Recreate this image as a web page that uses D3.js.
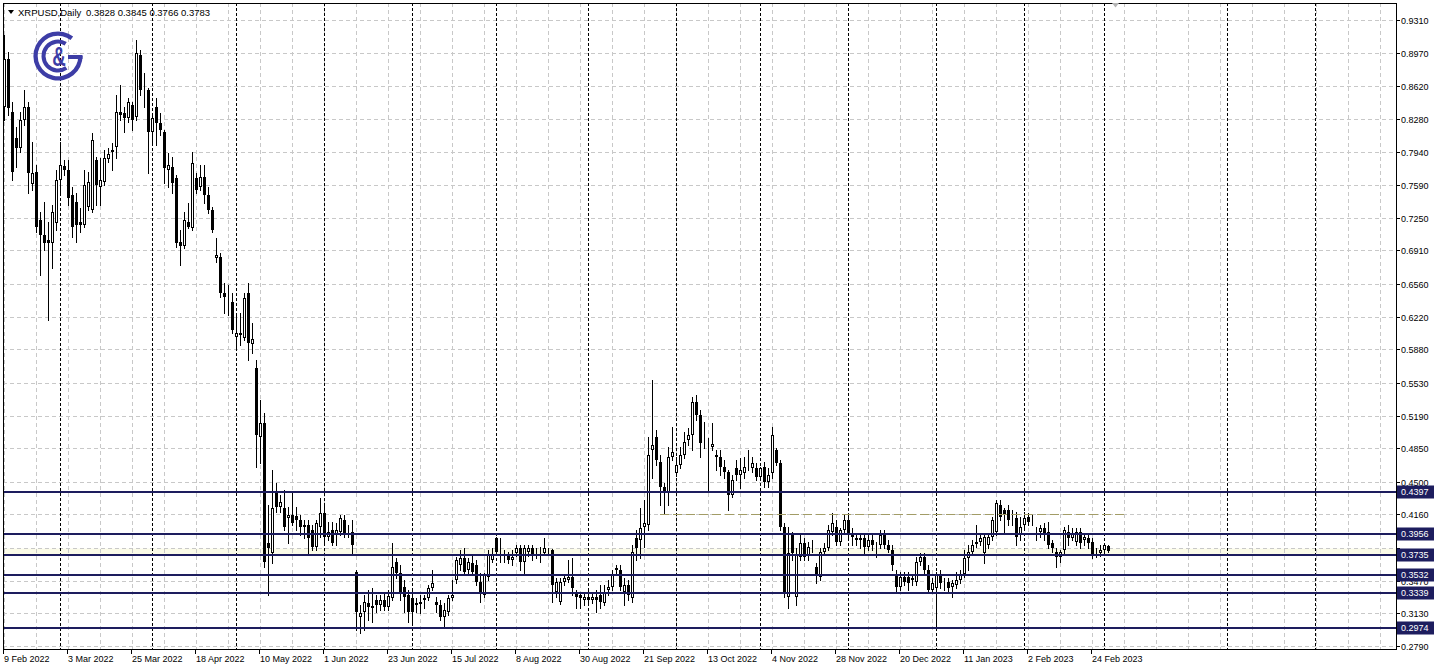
<!DOCTYPE html>
<html><head><meta charset="utf-8">
<script src="https://cdn.jsdelivr.net/npm/d3@7"></script>
<style>html,body{margin:0;padding:0;background:#fff;overflow:hidden}svg{display:block}</style>
</head><body>
<script>
// ---------------- data ----------------
const symbolTitle = "XRPUSD,Daily";
const lastQuote = ["0.3828", "0.3845", "0.3766", "0.3783"];

const dateLabels = ["9 Feb 2022","3 Mar 2022","25 Mar 2022","18 Apr 2022","10 May 2022","1 Jun 2022",
  "23 Jun 2022","15 Jul 2022","8 Aug 2022","30 Aug 2022","21 Sep 2022","13 Oct 2022","4 Nov 2022",
  "28 Nov 2022","20 Dec 2022","11 Jan 2023","2 Feb 2023","24 Feb 2023"];
const dateLabelBars = [0,16,32,48,64,80,96,112,128,144,160,176,192,208,224,240,256,272];
const monthSeparatorBars = [14,37,58,80,102,123,146,168,189,211,233,255,275,305.75,327.75];

const priceTicks = [0.9310,0.8970,0.8620,0.8280,0.7940,0.7590,0.7250,0.6910,0.6560,0.6220,
  0.5880,0.5530,0.5190,0.4850,0.4500,0.4160,0.3810,0.3470,0.3130,0.2790];
// the 0.3810 tick label is hidden behind the 0.3735 level box in the reference
const hiddenTickLabels = [0.3810];
const levelLines = [0.4397,0.3956,0.3735,0.3532,0.3339,0.2974];
const levelLabels = ["0.4397","0.3956","0.3735","0.3532","0.3339","0.2974"];
const trendLevel = 0.4163, trendFromBar = 164, trendToBar = 280.75;
const bandLow = 0.3737, bandHigh = 0.3805;

const opens = [
0.8403,0.8903,0.8351,0.8080,0.7976,0.8268,0.8403,0.7601,0.7726,0.7226,
0.7070,0.7018,0.6987,0.7195,0.7643,0.7789,0.7747,0.7487,0.7414,0.7205,
0.7174,0.7362,0.7330,0.7851,0.7570,0.7622,0.7862,0.7955,0.7987,0.8351,
0.8341,0.8289,0.8424,0.8299,0.8945,0.8601,0.8580,0.8143,0.8403,0.8237,
0.8143,0.7747,0.7778,0.7664,0.6997,0.6955,0.7205,0.7143,0.7664,0.7570,
0.7674,0.7487,0.7330,0.6830,0.6841,0.6466,0.6435,0.6372,0.6008,0.6049,
0.5997,0.6466,0.5935,0.5685,0.4966,0.5112,0.3862,0.3758,0.4383,0.4237,
0.4226,0.4122,0.4153,0.4143,0.4101,0.4049,0.4049,0.3997,0.3820,0.4028,
0.4174,0.3924,0.3997,0.3945,0.3976,0.4101,0.3976,0.3976,0.3560,0.3091,
0.3143,0.3237,0.3185,0.3268,0.3216,0.3268,0.3195,0.3289,0.3664,0.3549,
0.3403,0.3320,0.3289,0.3237,0.3226,0.3268,0.3289,0.3393,0.3247,0.3216,
0.3091,0.3143,0.3289,0.3476,0.3633,0.3705,0.3580,0.3653,0.3633,0.3455,
0.3320,0.3508,0.3685,0.3914,0.3758,0.3737,0.3737,0.3685,0.3758,0.3810,
0.3664,0.3768,0.3810,0.3758,0.3747,0.3758,0.3789,0.3789,0.3351,0.3247,
0.3455,0.3476,0.3508,0.3341,0.3320,0.3268,0.3299,0.3268,0.3299,0.3320,
0.3237,0.3372,0.3403,0.3580,0.3580,0.3351,0.3424,0.3289,0.3914,0.3893,
0.4028,0.4049,0.4830,0.4966,0.4705,0.4445,0.4393,0.4757,0.4591,0.4674,
0.4778,0.4935,0.4987,0.5330,0.5195,0.4883,0.4880,0.4862,0.4778,0.4757,
0.4653,0.4601,0.4362,0.4643,0.4570,0.4591,0.4653,0.4643,0.4643,0.4549,
0.4653,0.4497,0.4591,0.4830,0.4695,0.4028,0.3299,0.3966,0.3299,0.3716,
0.3862,0.3737,0.3820,0.3612,0.3508,0.3768,0.3810,0.3976,0.4028,0.3872,
0.3997,0.4101,0.3945,0.3893,0.3893,0.3914,0.3820,0.3893,0.3841,0.3841,
0.3945,0.3841,0.3789,0.3539,0.3403,0.3508,0.3508,0.3476,0.3455,0.3664,
0.3716,0.3580,0.3372,0.3393,0.3539,0.3424,0.3455,0.3403,0.3424,0.3476,
0.3539,0.3705,0.3768,0.3851,0.3872,0.3758,0.3841,0.3924,0.3976,0.4258,
0.4206,0.4206,0.4122,0.4122,0.3945,0.4049,0.4132,0.4101,0.3966,0.3976,
0.4018,0.3976,0.3862,0.3768,0.3716,0.3789,0.3976,0.3914,0.3872,0.3976,
0.3893,0.3914,0.3872,0.3768,0.3758,0.3789,0.3828];

const highs = [
0.9153,0.8976,0.8455,0.8195,0.8351,0.8580,0.8455,0.8039,0.7799,0.7310,
0.7414,0.7205,0.7383,0.7747,0.8039,0.7851,0.7851,0.7570,0.7508,0.7351,
0.7747,0.7726,0.8133,0.7883,0.7872,0.7955,0.7976,0.8028,0.8528,0.8633,
0.8403,0.8497,0.8455,0.9101,0.8997,0.8758,0.8601,0.8341,0.8497,0.8341,
0.8164,0.7924,0.7883,0.7695,0.7122,0.7310,0.7403,0.7935,0.7716,0.7799,
0.7799,0.7570,0.7362,0.7039,0.6883,0.6570,0.6549,0.6466,0.6258,0.6258,
0.6466,0.6570,0.6153,0.5768,0.5351,0.5216,0.4258,0.4622,0.4487,0.4362,
0.4414,0.4237,0.4383,0.4237,0.4153,0.4101,0.4101,0.4049,0.4101,0.4330,
0.4278,0.4080,0.4080,0.4070,0.4153,0.4153,0.4049,0.4101,0.3580,0.3216,
0.3320,0.3372,0.3393,0.3320,0.3320,0.3351,0.3372,0.3862,0.3705,0.3633,
0.3476,0.3372,0.3393,0.3289,0.3320,0.3320,0.3424,0.3580,0.3299,0.3268,
0.3237,0.3320,0.3476,0.3716,0.3789,0.3810,0.3705,0.3737,0.3685,0.3549,
0.3549,0.3789,0.3810,0.3924,0.3914,0.3789,0.3768,0.3789,0.3841,0.3841,
0.3841,0.3841,0.3841,0.3810,0.3820,0.3914,0.3810,0.3800,0.3497,0.3497,
0.3528,0.3685,0.3705,0.3372,0.3341,0.3351,0.3372,0.3330,0.3372,0.3424,
0.3424,0.3476,0.3580,0.3633,0.3633,0.3497,0.3476,0.3841,0.3997,0.4226,
0.4310,0.4966,0.5560,0.5039,0.4778,0.4487,0.4862,0.5070,0.4757,0.4862,
0.5018,0.5060,0.5380,0.5403,0.5247,0.5122,0.4955,0.5112,0.4830,0.4830,
0.4726,0.4622,0.4570,0.4726,0.4747,0.4757,0.4830,0.4757,0.4695,0.4653,
0.4705,0.4643,0.5070,0.4851,0.4726,0.4070,0.4028,0.3976,0.3810,0.3966,
0.3914,0.3872,0.3893,0.3653,0.3810,0.3862,0.4049,0.4174,0.4101,0.4018,
0.4153,0.4153,0.4018,0.3966,0.3945,0.3966,0.3945,0.3945,0.3872,0.3997,
0.3997,0.3893,0.3841,0.3580,0.3560,0.3560,0.3560,0.3539,0.3716,0.3758,
0.3758,0.3633,0.3497,0.3560,0.3580,0.3497,0.3497,0.3476,0.3560,0.3580,
0.3789,0.3841,0.3893,0.4049,0.3945,0.3945,0.3966,0.4132,0.4310,0.4310,
0.4226,0.4258,0.4206,0.4185,0.4132,0.4185,0.4174,0.4153,0.4028,0.4049,
0.4070,0.4080,0.3893,0.3810,0.3789,0.4028,0.4049,0.4018,0.4018,0.4018,
0.3945,0.3966,0.3914,0.3810,0.3841,0.3862,0.3845];

const lows = [
0.8268,0.8320,0.7643,0.7778,0.7935,0.8216,0.7508,0.7539,0.7101,0.6653,
0.6914,0.6185,0.6726,0.7122,0.7518,0.7695,0.7383,0.7049,0.6997,0.7101,
0.7153,0.7330,0.7310,0.7383,0.7383,0.7591,0.7830,0.7747,0.7872,0.8268,
0.8143,0.8247,0.8164,0.8268,0.8528,0.8403,0.7716,0.8008,0.8008,0.8112,
0.7612,0.7570,0.7508,0.6945,0.6758,0.6935,0.7143,0.7122,0.7508,0.7539,
0.7403,0.7299,0.7101,0.6789,0.6424,0.6258,0.6237,0.6049,0.5893,0.5924,
0.5976,0.5768,0.5841,0.4653,0.4695,0.3612,0.3320,0.3653,0.4185,0.4185,
0.3997,0.3862,0.4049,0.3997,0.3945,0.3914,0.3737,0.3789,0.3789,0.3924,
0.3872,0.3893,0.3841,0.3841,0.3945,0.3924,0.3924,0.3758,0.2960,0.2924,
0.2955,0.3060,0.3039,0.3143,0.3164,0.3164,0.3164,0.3268,0.3497,0.3268,
0.3143,0.3039,0.3039,0.3143,0.3133,0.3185,0.3268,0.3372,0.3143,0.3060,
0.2987,0.3112,0.3268,0.3445,0.3580,0.3539,0.3539,0.3539,0.3424,0.3247,
0.3299,0.3476,0.3664,0.3737,0.3664,0.3664,0.3653,0.3633,0.3727,0.3580,
0.3549,0.3727,0.3685,0.3705,0.3664,0.3737,0.3737,0.3247,0.3299,0.3226,
0.3424,0.3455,0.3320,0.3185,0.3185,0.3216,0.3216,0.3237,0.3143,0.3185,
0.3216,0.3320,0.3372,0.3539,0.3372,0.3216,0.3268,0.3247,0.3685,0.3705,
0.3820,0.3997,0.4539,0.4674,0.4258,0.4174,0.4258,0.4726,0.4560,0.4643,
0.4747,0.4883,0.4830,0.5143,0.4757,0.4851,0.4393,0.4830,0.4622,0.4570,
0.4539,0.4206,0.4341,0.4518,0.4435,0.4539,0.4622,0.4601,0.4518,0.4518,
0.4445,0.4445,0.4539,0.4674,0.3997,0.3299,0.3185,0.3685,0.3216,0.3685,
0.3685,0.3685,0.3768,0.3445,0.3476,0.3737,0.3789,0.3945,0.3841,0.3841,
0.3976,0.3893,0.3841,0.3841,0.3810,0.3737,0.3789,0.3789,0.3716,0.3810,
0.3810,0.3768,0.3580,0.3341,0.3372,0.3424,0.3372,0.3424,0.3424,0.3633,
0.3549,0.3351,0.3341,0.2987,0.3393,0.3372,0.3351,0.3299,0.3393,0.3445,
0.3508,0.3580,0.3737,0.3820,0.3841,0.3653,0.3810,0.3893,0.3945,0.4101,
0.3966,0.4049,0.4049,0.3841,0.3893,0.4018,0.4049,0.4049,0.3893,0.3924,
0.3893,0.3810,0.3768,0.3612,0.3664,0.3758,0.3841,0.3893,0.3841,0.3810,
0.3841,0.3810,0.3705,0.3716,0.3727,0.3737,0.3766];

const closes = [
0.8903,0.8393,0.7726,0.7976,0.8268,0.8403,0.7716,0.7716,0.7153,0.7070,
0.6987,0.6987,0.7310,0.7643,0.7799,0.7747,0.7455,0.7153,0.7174,0.7174,
0.7591,0.7622,0.8060,0.7591,0.7643,0.7872,0.7914,0.7935,0.8351,0.8320,
0.8289,0.8455,0.8268,0.8966,0.8580,0.8591,0.8143,0.8289,0.8237,0.8164,
0.7768,0.7799,0.7612,0.6987,0.6955,0.7226,0.7153,0.7820,0.7539,0.7674,
0.7487,0.7330,0.7122,0.6862,0.6466,0.6424,0.6424,0.6080,0.6049,0.6028,
0.6414,0.5945,0.5987,0.4987,0.5112,0.3664,0.3810,0.4226,0.4237,0.4289,
0.4028,0.4153,0.4070,0.4101,0.4028,0.4028,0.3914,0.3820,0.4070,0.4174,
0.3924,0.3976,0.3862,0.3997,0.4122,0.3945,0.3972,0.3841,0.3143,0.3133,
0.3247,0.3195,0.3206,0.3216,0.3268,0.3195,0.3310,0.3612,0.3549,0.3351,
0.3299,0.3143,0.3143,0.3216,0.3247,0.3289,0.3393,0.3445,0.3216,0.3091,
0.3164,0.3289,0.3320,0.3685,0.3705,0.3560,0.3664,0.3560,0.3455,0.3341,
0.3539,0.3737,0.3737,0.3768,0.3768,0.3740,0.3685,0.3716,0.3810,0.3664,
0.3810,0.3810,0.3737,0.3768,0.3758,0.3810,0.3792,0.3424,0.3455,0.3455,
0.3497,0.3508,0.3393,0.3299,0.3289,0.3299,0.3268,0.3299,0.3268,0.3247,
0.3351,0.3403,0.3539,0.3601,0.3403,0.3424,0.3320,0.3768,0.3810,0.4018,
0.4070,0.4778,0.4883,0.4726,0.4445,0.4393,0.4757,0.4810,0.4674,0.4778,
0.4914,0.4987,0.5330,0.5195,0.4903,0.4880,0.4872,0.4893,0.4757,0.4653,
0.4601,0.4362,0.4518,0.4570,0.4622,0.4653,0.4656,0.4695,0.4549,0.4643,
0.4497,0.4570,0.4987,0.4695,0.4028,0.3341,0.3758,0.3758,0.3737,0.3862,
0.3716,0.3820,0.3815,0.3539,0.3768,0.3810,0.3997,0.4070,0.3872,0.3997,
0.4101,0.3966,0.3924,0.3914,0.3914,0.3820,0.3893,0.3841,0.3845,0.3945,
0.3841,0.3789,0.3633,0.3403,0.3508,0.3455,0.3445,0.3497,0.3664,0.3716,
0.3580,0.3372,0.3445,0.3539,0.3445,0.3428,0.3393,0.3445,0.3476,0.3539,
0.3705,0.3768,0.3841,0.3872,0.3914,0.3924,0.3924,0.4101,0.4278,0.4132,
0.4153,0.4101,0.4118,0.3924,0.4028,0.4122,0.4080,0.4097,0.3962,0.4018,
0.3966,0.3841,0.3810,0.3716,0.3768,0.3997,0.3914,0.3966,0.3976,0.3862,
0.3924,0.3862,0.3737,0.3772,0.3789,0.3841,0.3783];

// ---------------- drawing ----------------
const W = 1438, H = 671;
const plot = {left: 3, top: 3, right: 1396, bottom: 649};
const FONT = "'Liberation Sans', Arial, sans-serif";
const navy = "#1d1d5e";

const svg = d3.select("body").append("svg").attr("width", W).attr("height", H);
svg.append("rect").attr("width", W).attr("height", H).attr("fill", "#fff");

const x = d3.scaleLinear().domain([0, 1]).range([4, 8]);          // 4 px per daily bar
const y = d3.scaleLinear().domain([0.2790, 0.9310]).range([646, 20]);
const px = v => Math.round(x(v));
const py = v => Math.round(y(v));

svg.append("defs").append("clipPath").attr("id", "plotclip")
  .append("rect").attr("x", plot.left).attr("y", plot.top)
  .attr("width", plot.right - plot.left).attr("height", plot.bottom - plot.top);

const plotG = svg.append("g").attr("clip-path", "url(#plotclip)");

// pale band
plotG.append("rect").attr("x", plot.left).attr("width", plot.right - plot.left)
  .attr("y", y(bandHigh)).attr("height", y(bandLow) - y(bandHigh)).attr("fill", "#fbfbe8");

// light grid
const grid = plotG.append("g").attr("shape-rendering", "crispEdges")
  .attr("stroke", "#c8c8c8").attr("stroke-width", 1).attr("stroke-dasharray", "4,3");
grid.selectAll("line.v").data(d3.range(0, x.invert(plot.right), 8)).join("line")
  .attr("x1", d => px(d) + 0.5).attr("x2", d => px(d) + 0.5)
  .attr("y1", plot.top).attr("y2", plot.bottom);
grid.selectAll("line.h").data(priceTicks).join("line")
  .attr("x1", plot.left).attr("x2", plot.right)
  .attr("y1", d => py(d) + 0.5).attr("y2", d => py(d) + 0.5);

// month separators
plotG.append("g").attr("shape-rendering", "crispEdges")
  .selectAll("line").data(monthSeparatorBars).join("line")
  .attr("x1", d => px(d) + 0.5).attr("x2", d => px(d) + 0.5)
  .attr("y1", plot.top).attr("y2", plot.bottom)
  .attr("stroke", "#000").attr("stroke-width", 1).attr("stroke-dasharray", "3,2");

// candles
const N = closes.length;
const bars = d3.range(N).map(i => ({i, o: opens[i], h: highs[i], l: lows[i], c: closes[i]}));
const cg = plotG.append("g").attr("shape-rendering", "crispEdges");
cg.selectAll("line.wick").data(bars).join("line")
  .attr("x1", d => px(d.i) + 0.5).attr("x2", d => px(d.i) + 0.5)
  .attr("y1", d => py(d.h)).attr("y2", d => py(d.l) + 1)
  .attr("stroke", "#000").attr("stroke-width", 1);
cg.selectAll("rect.body").data(bars).join("rect")
  .attr("x", d => px(d.i) - 0.5)
  .attr("y", d => py(Math.max(d.o, d.c)) + 0.5)
  .attr("width", 2)
  .attr("height", d => Math.max(py(Math.min(d.o, d.c)) - py(Math.max(d.o, d.c)) - 1, 0))
  .attr("fill", d => d.c >= d.o ? "#fff" : "#000")
  .attr("stroke", "#000").attr("stroke-width", 1);

// horizontal levels
plotG.append("g").attr("shape-rendering", "crispEdges")
  .selectAll("line").data(levelLines).join("line")
  .attr("x1", plot.left).attr("x2", plot.right)
  .attr("y1", d => py(d)).attr("y2", d => py(d))
  .attr("stroke", navy).attr("stroke-width", 2);

// dashed level
plotG.append("line").attr("shape-rendering", "crispEdges")
  .attr("x1", x(trendFromBar)).attr("x2", x(trendToBar))
  .attr("y1", py(trendLevel) + 0.5).attr("y2", py(trendLevel) + 0.5)
  .attr("stroke", "#a29c66").attr("stroke-width", 1).attr("stroke-dasharray", "9,4");

// frame
const fr = svg.append("g").attr("shape-rendering", "crispEdges").attr("stroke", "#000").attr("fill", "none");
fr.append("line").attr("x1", plot.left).attr("x2", plot.right + 1).attr("y1", plot.top + 0.5).attr("y2", plot.top + 0.5);
fr.append("line").attr("x1", plot.left + 0.5).attr("x2", plot.left + 0.5).attr("y1", plot.top).attr("y2", plot.bottom);
fr.append("line").attr("x1", plot.right + 0.5).attr("x2", plot.right + 0.5).attr("y1", plot.top).attr("y2", plot.bottom + 1);
fr.append("line").attr("x1", plot.left).attr("x2", plot.right + 1).attr("y1", plot.bottom + 0.5).attr("y2", plot.bottom + 0.5);

// price axis
const pa = svg.append("g");
pa.selectAll("line").data(priceTicks).join("line").attr("shape-rendering", "crispEdges")
  .attr("x1", plot.right + 1).attr("x2", plot.right + 4)
  .attr("y1", d => py(d) + 0.5).attr("y2", d => py(d) + 0.5).attr("stroke", "#000");
pa.selectAll("text").data(priceTicks.filter(d => !hiddenTickLabels.includes(d))).join("text")
  .attr("x", plot.right + 5).attr("y", d => py(d) + 0.5).attr("dy", "0.35em")
  .attr("font-family", FONT).attr("font-size", 9).attr("fill", "#000")
  .text(d => d.toFixed(4));

// level label boxes
const lb = svg.append("g").selectAll("g").data(levelLines).join("g");
lb.append("rect").attr("x", plot.right + 1).attr("y", d => py(d) - 6.5)
  .attr("width", 37).attr("height", 13).attr("fill", navy);
lb.append("text").attr("x", plot.right + 5).attr("y", d => py(d)).attr("dy", "0.35em")
  .attr("font-family", FONT).attr("font-size", 9).attr("fill", "#fff")
  .text((d, i) => levelLabels[i]);

// time axis
const ta = svg.append("g");
ta.selectAll("line").data(dateLabelBars).join("line").attr("shape-rendering", "crispEdges")
  .attr("x1", d => px(d) - 0.5).attr("x2", d => px(d) - 0.5)
  .attr("y1", plot.bottom + 1).attr("y2", plot.bottom + 5).attr("stroke", "#000");
ta.selectAll("text").data(dateLabelBars).join("text")
  .attr("x", d => px(d)).attr("y", 662)
  .attr("font-family", FONT).attr("font-size", 9).attr("fill", "#000")
  .text((d, i) => dateLabels[i]);

// header
svg.append("path").attr("d", "M8,10 L14,10 L11,14 Z").attr("fill", "#000");
svg.append("text").attr("x", 18).attr("y", 15.5).attr("font-family", FONT).attr("font-size", 9.5)
  .attr("fill", "#000").text(symbolTitle);
svg.append("text").attr("x", 86).attr("y", 15.5).attr("font-family", FONT).attr("font-size", 9.5)
  .attr("fill", "#000").text(lastQuote.join(" "));

// shift marker
svg.append("path").attr("d", "M1112,3 L1119,3 L1115.5,7.5 Z").attr("fill", "#b4b4b4");

// logo
const logoC = "#3d3da6";
const logo = svg.append("g").attr("transform", "translate(58,56)");
const deg = Math.PI / 180;
logo.append("path").attr("d", d3.arc()({innerRadius: 20.3, outerRadius: 24.6, startAngle: 90 * deg, endAngle: 398 * deg}))
  .attr("fill", logoC);
logo.append("rect").attr("x", 10).attr("y", -1).attr("width", 14.5).attr("height", 4).attr("fill", logoC);
logo.append("path").attr("d", d3.arc()({innerRadius: 12.5, outerRadius: 16.5, startAngle: 145 * deg, endAngle: 392 * deg}))
  .attr("fill", logoC);
logo.append("text").attr("x", 0).attr("y", 0).attr("transform", "translate(1,10) scale(0.78,1.18)")
  .attr("text-anchor", "middle").attr("font-family", FONT).attr("font-weight", "bold")
  .attr("font-size", 24).attr("fill", logoC).text("&");
</script>
</body></html>
